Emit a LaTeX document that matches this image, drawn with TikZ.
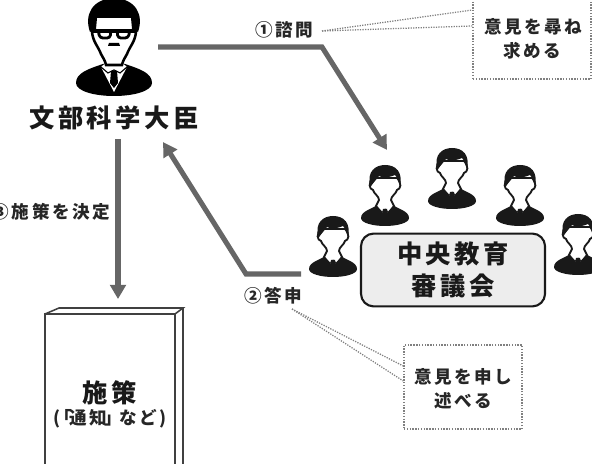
\documentclass[tikz,border=0pt]{standalone}
\usepackage{fontspec}
\setmainfont{Liberation Sans}
\newfontfamily\jpfont[LetterSpace=14]{Noto Sans CJK JP}
\usetikzlibrary{arrows.meta}
\definecolor{flowgray}{HTML}{666666}
\definecolor{notegray}{HTML}{808080}
\tikzset{
  flowline/.style={draw=flowgray, line width=3.6pt, ->, >={Triangle[length=10pt,width=11pt]}},
  noteline/.style={draw=notegray, line width=0.9pt, dash pattern=on 0.9pt off 0.9pt},
  notebox/.style={draw=notegray, line width=1pt, dash pattern=on 1pt off 1pt},
  label/.style={font=\jpfont\bfseries\fontsize{12.5}{14}\selectfont, inner sep=0pt, text=black!85},
  title/.style={font=\jpfont\bfseries\fontsize{18}{20}\selectfont, inner sep=0pt, text=black!90},
  member/.pic={
    \fill[black!90] (-24,53) .. controls (-24,46) and (-13,44) .. (-8,40) -- (8,40) .. controls (13,44) and (24,46) .. (24,53) .. controls (24,58) and (12,61) .. (0,61) .. controls (-12,61) and (-24,58) .. (-24,53) -- cycle;
    \draw[black!90, line width=1.3pt, fill=white] (-12,13) .. controls (-17,18) and (-16,24) .. (-12,25) .. controls (-11,29) and (-6,31) .. (-6,35) -- (-9,41) -- (0,52) -- (9,41) -- (6,35) .. controls (6,31) and (11,29) .. (12,25) .. controls (16,24) and (17,18) .. (12,13) -- cycle;
    \fill[black!90] (-2,44) -- (2,44) -- (3,49) -- (0,53) -- (-3,49) -- cycle;
    \draw[black!90, line width=0.5pt] (-8,42) -- (-3,47) -- (0,44) -- (3,47) -- (8,42);
    \fill[black!90] (-14.5,22) .. controls (-19,6) and (-9,0) .. (0,0) .. controls (11,0) and (18,7) .. (15,21) .. controls (13,16) and (12,12) .. (10,10) .. controls (3,13) and (-3,13) .. (-6,11) .. controls (-9,15) and (-12,18) .. (-14.5,22) -- cycle;
  },
  minister/.pic={
    \fill[black] (-38,83) .. controls (-38,73) and (-26,69) .. (-11,64) -- (11,64) .. controls (26,69) and (38,73) .. (38,83) .. controls (38,91) and (20,96) .. (0,96) .. controls (-20,96) and (-38,91) .. (-38,83) -- cycle;
    \fill[white] (-13,67) -- (-6,61) -- (6,61) -- (13,67) -- (0,92) -- cycle;
    \draw[black, line width=0.8pt] (-13,67) -- (-6,73) -- (0,70) -- (6,73) -- (13,67);
    \fill[black] (-3,71) -- (3,71) -- (4,83) -- (0,88) -- (-4,83) -- cycle;
    \draw[black, line width=1.8pt, fill=white] (-21,16) -- (-22,32) .. controls (-21,42) and (-16,46) .. (-13,54) .. controls (-11,58) and (-9,60) .. (-8,65) -- (8,65) .. controls (9,60) and (11,58) .. (13,54) .. controls (16,46) and (21,42) .. (22,32) -- (21,16) -- cycle;
    \fill[black] (-24,32) .. controls (-30,15) and (-22,-1) .. (0,-2) .. controls (22,-1) and (30,15) .. (24,32) -- (18,29) -- (17,18) -- (-17,18) -- (-18,29) -- cycle;
    \draw[black, line width=2pt, fill=white, rounded corners=2pt] (-16,31) -- (-3,31) -- (-4,38) -- (-14,38) -- cycle;
    \draw[black, line width=2pt, fill=white, rounded corners=2pt] (16,31) -- (3,31) -- (4,38) -- (14,38) -- cycle;
    \draw[black, line width=2.4pt] (-23,31) -- (23,31);
    \fill[black] (-5,43) -- (5,43) -- (6,46) -- (-6,46) -- cycle;
  }
}
\begin{document}
\begin{tikzpicture}[x=0.025cm,y=-0.025cm,>=stealth]
\useasboundingbox (0,0) rectangle (592,464);
% people
\pic at (114,0) {minister};
\pic at (333,216) {member};
\pic at (385,165) {member};
\pic at (452,148) {member};
\pic at (520,165) {member};
\pic at (578,214) {member};
\node[title] (daijin) at (114,118) {文部科学大臣};
% council
\node[draw=black!90, fill=black!7, line width=1.5pt, rounded corners=9pt, minimum width=4.6cm, minimum height=1.82cm, inner sep=0pt] (council) at (453,270) {};
\node[title] (chuo) at (453,254) {中央教育};
\node[title] (shingi) at (453,286) {審議会};
% book
\draw[black!75, line width=1.1pt] (45,470) -- (45,314) -- (175,314) -- (175,470);
\draw[black!75, line width=1.1pt] (45,314) -- (59,308) -- (183,308) -- (175,314);
\draw[black!75, line width=1.1pt] (183,308) -- (183,470);
\node[title] (shisaku) at (110,393) {施策};
\node[label] (tsuchi) at (110,419) {(\kern-.3em「\kern-.15em 通知\kern-.15em」\kern-.15em など)};
% flows
\coordinate (a1) at (158,47);
\coordinate (a2) at (322,47);
\coordinate (a3) at (387,150);
\coordinate (b1) at (301,274);
\coordinate (b2) at (246,274);
\coordinate (b3) at (163,142);
\coordinate (c1) at (118,139);
\coordinate (c2) at (118,299);
\draw[flowline] (a1) -- (a2) -- (a3);
\draw[flowline] (b1) -- (b2) -- (b3);
\draw[flowline] (c1) -- (c2);
\node[label] (shimon) at (284,30) {①諮問};
\node[label] (toushin) at (273,296) {②答申};
\node[label, anchor=east] (kettei) at (110,212) {③施策を決定};
% notes
\node[notebox, minimum width=2.95cm, minimum height=2.2cm] (topnote) at (532,35) {};
\node[notebox, minimum width=2.95cm, minimum height=2.1cm] (lownote) at (463,387) {};
\node[label] (tn1) at (533,27) {意見を尋ね};
\node[label] (tn2) at (532,51) {求める};
\node[label] (ln1) at (463,377) {意見を申し};
\node[label] (ln2) at (463,401) {述べる};
\coordinate (s1) at (322,31);
\coordinate (s2) at (292,309);
\draw[noteline] (s1) -- (topnote.west |- 0,10);
\draw[noteline] (s1) -- (topnote.west |- 0,26);
\draw[noteline] (s2) -- (lownote.west |- 0,366);
\draw[noteline] (s2) -- (lownote.west |- 0,381);
\end{tikzpicture}
\end{document}
